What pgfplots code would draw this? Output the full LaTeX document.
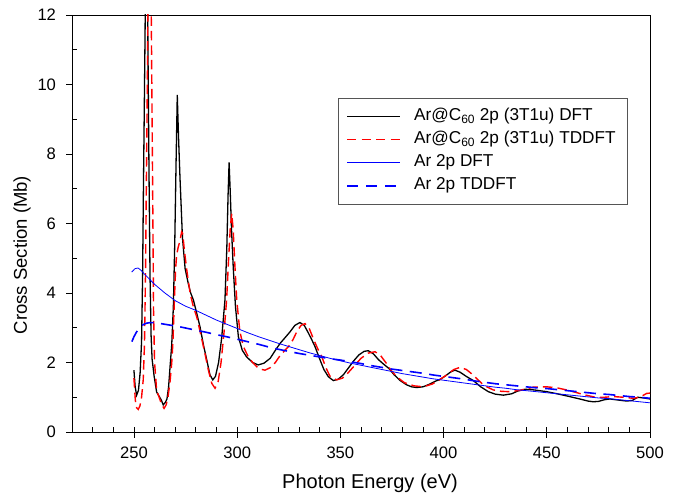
\documentclass[border=0pt]{standalone}
\usepackage{fontspec}
\setmainfont{Liberation Sans}
\usepackage{pgfplots}
\pgfplotsset{compat=1.18}
\definecolor{pureblue}{RGB}{0,0,255}
\definecolor{purered}{RGB}{255,0,0}
\definecolor{legendgray}{RGB}{85,85,85}
\begin{document}
\begin{tikzpicture}
\useasboundingbox (-72bp,-62bp) rectangle (613bp,432bp);
\begin{axis}[
  at={(0,0)}, anchor=south west,
  width=578bp, height=417bp, scale only axis,
  xmin=220, xmax=500, ymin=0, ymax=12,
  xtick={250,300,...,500}, minor xtick={230,240,...,490},
  ytick={0,2,...,12}, minor ytick={1,3,...,11},
  xtick pos=bottom, ytick pos=left,
  tick align=inside,
  major tick length=5.5bp, minor tick length=5bp,
  major x tick style={yshift=-5.5bp},
  major y tick style={xshift=-5.5bp},
  every tick/.style={black, line width=0.8bp},
  axis line style={black, line width=0.9bp},
  /pgf/number format/assume math mode=true,
  tick label style={font=\fontsize{16.6bp}{19bp}\selectfont},
  yticklabel style={xshift=-12.5bp},
  xticklabel style={yshift=-11bp},
  every axis y label/.style={at={(axis description cs:-0.0865,0.4245)}, rotate=90, anchor=center, font=\fontsize{18.5bp}{22bp}\selectfont},
  every axis x label/.style={at={(axis description cs:0.5156,-0.1223)}, anchor=center, font=\fontsize{20bp}{24bp}\selectfont},
  xlabel={Photon Energy (eV)},
  ylabel={Cross Section (Mb)},
  legend cell align=left,
  legend style={at={(axis description cs:0.962,0.801)}, anchor=north east,
    draw=legendgray, fill=white, line width=0.8bp, font=\fontsize{17.2bp}{20bp}\selectfont,
    inner xsep=8bp, inner ysep=8bp, row sep=2.8bp,
    nodes={text height=12.3bp, text depth=4bp, inner ysep=2bp, inner xsep=4bp}},
]
\addplot[color=black, line width=1.3bp,
  legend image code/.code={\draw[color=black, solid, line width=1.2bp] (0bp,0bp) -- (53bp,0bp); \draw[draw=none] (53bp,0bp) -- (63bp,0bp);}] coordinates {
(250,1.78) (250.6,1.3) (251.3,1.06) (252.2,1.2) (253,1.7) (253.7,2.6) (254.2,4.5) (254.6,7.0) (255.0,9.2) (255.4,11.5) (255.8,14.5) (256.3,14.5) (256.8,11) (257.3,7.5) (257.8,4.5) (258.3,2.8) (258.8,2.1) (259.8,1.6) (261,1.15) (262.5,1.0) (263.4,0.9) (264.2,0.78) (265.2,0.85) (266,0.95) (266.8,1.3) (267.5,1.88) (268.3,2.5) (269.1,3.6) (269.8,5.5) (270.4,7.7) (271,9.7) (271.6,8.5) (272.3,7.34) (273.5,5.6) (274.8,4.7) (276.3,4.28) (277.5,4.0) (278.8,3.8) (280.5,3.4) (282,3.03) (283.7,2.5) (285.3,2.07) (286.8,1.65) (288.2,1.5) (289.5,1.6) (291,2.0) (292.5,2.7) (294.1,3.8) (295,5.3) (295.6,6.8) (296.1,7.76) (296.6,7.0) (297.3,5.8) (298.1,4.75) (299.2,3.6) (300.6,2.74) (302.5,2.35) (304.6,2.16) (307.5,2.0) (310.2,1.93) (313,1.98) (316,2.12) (318.5,2.35) (320.8,2.55) (323,2.7) (325.6,2.88) (328,3.07) (330.4,3.15) (332.5,3.07) (334.5,2.85) (336.2,2.65) (337.7,2.46) (340,2.1) (342,1.8) (344.2,1.59) (346.6,1.48) (349,1.52) (351.5,1.65) (354,1.85) (356.5,2.05) (359,2.22) (361.5,2.32) (363.5,2.34) (366,2.25) (368.5,2.08) (371,1.95) (373.5,1.83) (376,1.65) (379,1.48) (382,1.36) (384.5,1.3) (387,1.28) (390,1.3) (393,1.37) (396,1.46) (398.5,1.52) (401,1.62) (403.5,1.73) (405.5,1.78) (408,1.72) (411,1.6) (414.4,1.48) (418,1.3) (421.7,1.16) (425,1.09) (429,1.06) (433,1.1) (436,1.18) (439.5,1.23) (444,1.21) (450,1.16) (455,1.1) (461,1.02) (466,0.95) (470,0.89) (472.5,0.87) (475,0.88) (478,0.93) (480.6,0.95) (484.5,0.92) (488.7,0.89) (491.5,0.91) (494,1.0) (497,0.98) (500,0.95)
};
\addlegendentry{Ar@C\textsubscript{60} 2p (3T1u) DFT}
\addplot[color=purered, line width=1.4bp, dash pattern=on 9.5bp off 5bp,
  legend image code/.code={\draw[color=purered, line width=1.4bp, dash pattern=on 9bp off 5.5bp] (0bp,0bp) -- (53bp,0bp); \draw[draw=none] (53bp,0bp) -- (63bp,0bp);}] coordinates {
(250,1.55) (250.7,0.9) (251.3,0.7) (252.1,0.65) (252.9,0.75) (253.7,1.0) (254.5,1.5) (255.1,2.5) (255.6,4.5) (256,7) (256.5,10) (256.9,13) (257.4,15) (257.9,15) (258.4,12) (258.8,9) (259.2,6) (259.5,3.5) (260,2.0) (261,1.2) (262.2,1.0) (263.4,0.8) (264.6,0.68) (265.6,0.78) (266.5,1.0) (267.5,1.45) (268.3,1.98) (268.9,2.6) (269.6,3.8) (270.2,4.7) (270.7,5.1) (271.5,5.33) (272.3,5.5) (273.1,5.76) (273.6,5.72) (274.5,5.2) (275.6,4.66) (277.2,4.0) (278.8,3.6) (280.4,3.32) (282.4,2.8) (284.4,2.26) (286,1.8) (287.7,1.4) (289.3,1.26) (290.8,1.45) (292.2,2.0) (293.7,2.9) (294.9,3.8) (295.8,4.9) (296.7,5.9) (297.4,6.29) (298.1,5.8) (298.9,4.8) (299.8,3.8) (301.3,2.9) (303,2.46) (305.5,2.15) (307.8,1.98) (310,1.85) (311.9,1.80) (313.5,1.78) (316,1.85) (318.5,2.0) (320.8,2.2) (322.8,2.33) (324.8,2.45) (327,2.65) (329,2.9) (331,3.07) (332.9,3.12) (334.8,3.0) (336.8,2.7) (339,2.4) (341,2.17) (343,1.85) (345,1.6) (348.2,1.5) (351,1.55) (354,1.72) (357,1.92) (360,2.12) (363.5,2.27) (366.8,2.31) (369.5,2.2) (372,2.0) (374.5,1.78) (377.3,1.59) (381,1.42) (385.5,1.33) (390.2,1.3) (394.5,1.38) (398,1.5) (401.5,1.64) (405,1.8) (408,1.86) (411,1.8) (413.5,1.68) (416,1.54) (418.5,1.4) (420.9,1.3) (424.1,1.21) (428,1.17) (432.2,1.16) (437,1.2) (443.5,1.29) (450,1.30) (455,1.27) (459.6,1.21) (464,1.14) (469,1.06) (474.2,0.99) (478,1.0) (482.2,1.02) (487,1.0) (491.9,0.97) (495,1.0) (498.4,1.11) (500,1.12)
};
\addlegendentry{Ar@C\textsubscript{60} 2p (3T1u) TDDFT}
\addplot[color=pureblue, line width=0.8bp,
  legend image code/.code={\draw[draw={rgb,255:red,0;green,0;blue,255}, solid, line width=1.1bp] (0bp,0bp) -- (53bp,0bp); \draw[draw=none] (53bp,0bp) -- (63bp,0bp);}] coordinates {
(248.9,4.6) (250.5,4.7) (252,4.72) (253.5,4.65) (255,4.55) (257.5,4.4) (260,4.25) (265,4.0) (270,3.78) (275,3.62) (280,3.5) (285,3.36) (290,3.22) (295,3.1) (300,2.98) (305,2.86) (310,2.75) (315,2.65) (320,2.55) (325,2.46) (330,2.37) (335,2.28) (340,2.2) (345,2.12) (350,2.05) (355,1.98) (360,1.92) (365,1.86) (370,1.8) (375,1.74) (380,1.68) (385,1.63) (390,1.58) (395,1.53) (400,1.49) (405,1.45) (410,1.41) (415,1.37) (420,1.33) (425,1.29) (430,1.26) (435,1.22) (440,1.19) (445,1.16) (450,1.13) (455,1.1) (460,1.07) (465,1.04) (470,1.01) (475,0.98) (480,0.96) (485,0.93) (490,0.9) (495,0.87) (500,0.84)
};
\addlegendentry{Ar 2p DFT}
\addplot[color=pureblue, line width=1.6bp, dash pattern=on 12bp off 7.5bp,
  legend image code/.code={\draw[color=pureblue, line width=1.6bp, dash pattern=on 11bp off 8bp] (0bp,0bp) -- (53bp,0bp); \draw[draw=none] (53bp,0bp) -- (63bp,0bp);}] coordinates {
(249,2.6) (250,2.74) (251,2.85) (252,2.95) (253,3.02) (254.5,3.09) (256,3.13) (258,3.15) (261,3.14) (265,3.1) (268,3.07) (272,3.03) (276,2.98) (280,2.93) (285,2.87) (290,2.8) (295,2.74) (300,2.67) (305,2.6) (310,2.53) (315,2.45) (320,2.38) (325,2.32) (330,2.26) (335,2.21) (340,2.16) (345,2.11) (350,2.07) (355,2.02) (360,1.97) (365,1.91) (370,1.86) (375,1.81) (380,1.77) (385,1.73) (390,1.69) (395,1.64) (400,1.6) (405,1.56) (410,1.52) (415,1.47) (420,1.43) (425,1.39) (430,1.36) (435,1.33) (440,1.3) (445,1.27) (450,1.25) (455,1.22) (460,1.19) (465,1.16) (470,1.13) (475,1.1) (480,1.08) (485,1.05) (490,1.02) (495,1.0) (500,0.97)
};
\addlegendentry{Ar 2p TDDFT}
\end{axis}
\end{tikzpicture}
\end{document}
